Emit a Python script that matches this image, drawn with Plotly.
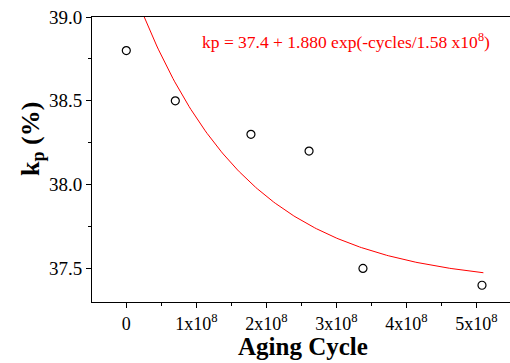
import numpy as np
import plotly.graph_objects as go

# Data
cycles = [0, 0.70e8, 1.78e8, 2.61e8, 3.38e8, 5.08e8]
kp = [38.8, 38.5, 38.3, 38.2, 37.5, 37.4]

# Fit parameters (from the printed equation)
fit_y0 = 37.4
fit_a = 1.880
fit_t = 1.58e8
fit_x_start, fit_x_end = 0, 5.1e8

xtick_vals = [0, 1e8, 2e8, 3e8, 4e8, 5e8]
xtick_text = ["0", "1x10<sup>8</sup>", "2x10<sup>8</sup>", "3x10<sup>8</sup>",
              "4x10<sup>8</sup>", "5x10<sup>8</sup>"]
ytick_vals = [37.5, 38.0, 38.5, 39.0]
ytick_text = ["37.5", "38.0", "38.5", "39.0"]

fx = np.linspace(fit_x_start, fit_x_end, 200)
fy = fit_y0 + fit_a * np.exp(-fx / fit_t)

font = "Liberation Serif, Times New Roman, serif"

fig = go.Figure()
fig.add_trace(go.Scatter(x=fx, y=fy, mode="lines",
                         line=dict(color="#ff0000", width=1), showlegend=False))
fig.add_trace(go.Scatter(x=cycles, y=kp, mode="markers",
                         marker=dict(symbol="circle-open", size=8,
                                     color="black", line=dict(width=1.2)),
                         showlegend=False))

fig.update_layout(
    width=510, height=363,
    margin=dict(l=92, r=0, t=17, b=61),
    paper_bgcolor="white", plot_bgcolor="white",
    font=dict(family=font, color="black"),
    xaxis=dict(range=[-0.49e8, 5.48e8], tickvals=xtick_vals, ticktext=xtick_text,
               ticks="outside", ticklen=5, tickwidth=1, tickcolor="black",
               showline=True, linecolor="black", linewidth=1, mirror=True,
               showgrid=False, zeroline=False,
               tickfont=dict(size=18, family=font),
               minor=dict(tickvals=[-0.5e8, 0.5e8, 1.5e8, 2.5e8, 3.5e8, 4.5e8],
                          ticks="outside", ticklen=3, tickcolor="black")),
    yaxis=dict(range=[37.3, 39.0], tickvals=ytick_vals, ticktext=ytick_text,
               ticks="outside", ticklen=5, tickwidth=1, tickcolor="black",
               showline=True, linecolor="black", linewidth=1,
               showgrid=False, zeroline=False,
               tickfont=dict(size=19, family=font),
               minor=dict(tickvals=[37.75, 38.25, 38.75],
                          ticks="outside", ticklen=3, tickcolor="black")),
    annotations=[
        dict(x=0.957, y=0.96, xref="paper", yref="paper", xanchor="right", yanchor="top",
             text="kp = 37.4 + 1.880 exp(-cycles/1.58 x10<sup>8</sup>)",
             showarrow=False, font=dict(size=17.5, color="#ff0000", family=font)),
        dict(x=0.505, y=-0.212, xref="paper", yref="paper", xanchor="center",
             yanchor="bottom", text="<b>Aging Cycle</b>", showarrow=False,
             font=dict(size=25, family=font)),
        dict(x=-0.1435, y=0.572, xref="paper", yref="paper", xanchor="center",
             yanchor="middle", textangle=-90, text="<b>k<sub>p</sub> (%)</b>",
             showarrow=False, font=dict(size=26, family=font)),
    ],
)

fig.write_html("out.html")
